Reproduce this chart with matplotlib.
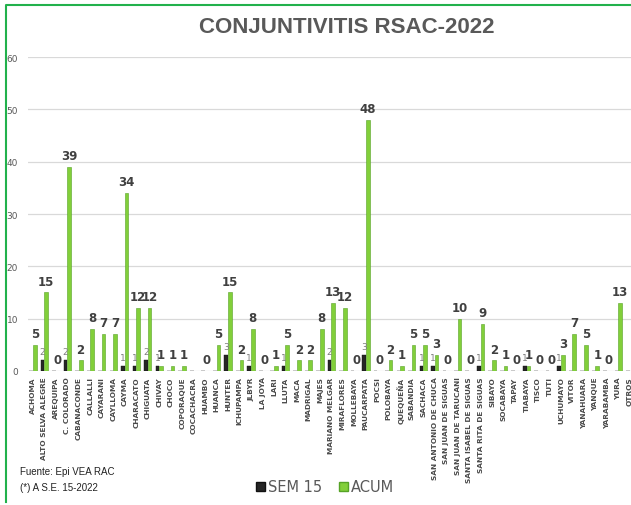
import numpy as np
import matplotlib.pyplot as plt
from matplotlib.lines import Line2D
from matplotlib.patches import Patch

distritos = ["ACHOMA", "ALTO SELVA ALEGRE", "AREQUIPA", "C. COLORADO", "CABANACONDE",
             "CALLALLI", "CAYARANI", "CAYLLOMA", "CAYMA", "CHARACATO", "CHIGUATA",
             "CHIVAY", "CHOCO", "COPORAQUE", "COCACHACRA", "HUAMBO", "HUANCA", "HUNTER",
             "ICHUPAMPA", "JLBYR", "LA JOYA", "LARI", "LLUTA", "MACA", "MADRIGAL", "MAJES",
             "MARIANO MELGAR", "MIRAFLORES", "MOLLEBAYA", "PAUCARPATA", "POCSI", "POLOBAYA",
             "QUEQUEÑA", "SABANDIA", "SACHACA", "SAN ANTONIO DE CHUCA", "SAN JUAN DE SIGUAS",
             "SAN JUAN DE TARUCANI", "SANTA ISABEL DE SIGUAS", "SANTA RITA DE SIGUAS",
             "SIBAYO", "SOCABAYA", "TAPAY", "TIABAYA", "TISCO", "TUTI", "UCHUMAYO", "VITOR",
             "YANAHUARA", "YANQUE", "YARABAMBA", "YURA", "OTROS"]

sem15 = [0, 2, 0, 2, 0, 0, 0, 0, 1, 1, 2, 1, 0, 0, 0, 0, 0, 3, 0, 1, 0, 0, 1, 0, 0, 0,
         2, 0, 0, 3, 0, 0, 0, 0, 1, 1, 0, 0, 0, 1, 0, 0, 0, 1, 0, 0, 1, 0, 0, 0, 0, 0, 0]

acum = [5, 15, 0, 39, 2, 8, 7, 7, 34, 12, 12, 1, 1, 1, np.nan, 0, 5, 15, 2, 8, 0, 1, 5,
        2, 2, 8, 13, 12, 0, 48, 0, 2, 1, 5, 5, 3, 0, 10, 0, 9, 2, 1, 0, 1, 0, 0, 3, 7,
        5, 1, 0, 13, 0]

verde = "#82cf3a"
negro = "#262626"

fig = plt.figure(figsize=(6.31, 5.06), dpi=100)
ax = fig.add_axes([0.044, 0.265, 0.956, 0.62])

x = np.arange(len(distritos))
w = 0.32
ax.bar(x - w / 2, sem15, width=w, color=negro, edgecolor="#111111", linewidth=0.3, zorder=3)
ax.bar(x + w / 2, acum, width=w, color=verde, edgecolor="#56a326", linewidth=0.4, zorder=3)

# etiquetas de datos
for i in range(len(distritos)):
    if sem15[i] > 0:
        ax.annotate(str(sem15[i]), (x[i] - w / 2, sem15[i]), xytext=(0, 3),
                    textcoords="offset points", ha="center", va="bottom",
                    fontsize=6.5, color="#7f7f7f", family="DejaVu Sans")
    if not np.isnan(acum[i]):
        ax.annotate(str(int(acum[i])), (x[i] + w / 2, acum[i]), xytext=(0, 3.5),
                    textcoords="offset points", ha="center", va="bottom",
                    fontsize=8.5, fontweight="bold", color="#404040", family="DejaVu Sans")

ax.set_ylim(0, 60)
ax.set_yticks(range(0, 61, 10))
ax.set_xlim(-0.45, 52.1)
ax.set_xticks(x)
ax.set_xticklabels(distritos, rotation=90, fontsize=5.3, fontweight="bold",
                   color="#4a4a4a", family="DejaVu Sans")
ax.tick_params(axis="x", length=0, pad=4)
ax.tick_params(axis="y", length=0, labelsize=6.5, labelcolor="#595959", pad=7)
ax.grid(axis="y", color="#d9d9d9", linewidth=0.9, zorder=0)
for s in ax.spines.values():
    s.set_visible(False)

fig.text(0.55, 0.945, "CONJUNTIVITIS RSAC-2022", ha="center", va="center",
         fontsize=16, fontweight="bold", color="#595959",
         family=["Liberation Sans Narrow", "Liberation Sans"])

fig.text(0.032, 0.067, "Fuente: Epi VEA RAC", fontsize=7, color="#222222",
         family=["Liberation Sans Narrow", "Liberation Sans"], va="center")
fig.text(0.032, 0.036, "(*) A S.E. 15-2022", fontsize=7, color="#222222",
         family=["Liberation Sans Narrow", "Liberation Sans"], va="center")

handles = [Patch(facecolor=negro, edgecolor="#111111"),
           Patch(facecolor=verde, edgecolor="#56a326")]
fig.legend(handles, ["SEM 15", "ACUM"], loc="center", bbox_to_anchor=(0.515, 0.036),
           ncol=2, frameon=False, fontsize=10.5, handlelength=0.6, handleheight=0.6,
           handletextpad=0.2, columnspacing=1.2, labelcolor="#595959")

# borde verde
fig.add_artist(Line2D([6 / 631, 6 / 631, 1.0], [1 - 503 / 506, 1 - 5.5 / 506, 1 - 5.5 / 506],
                      transform=fig.transFigure, color="#22b14c", linewidth=1.5))

fig.savefig("out.png", dpi=100)
